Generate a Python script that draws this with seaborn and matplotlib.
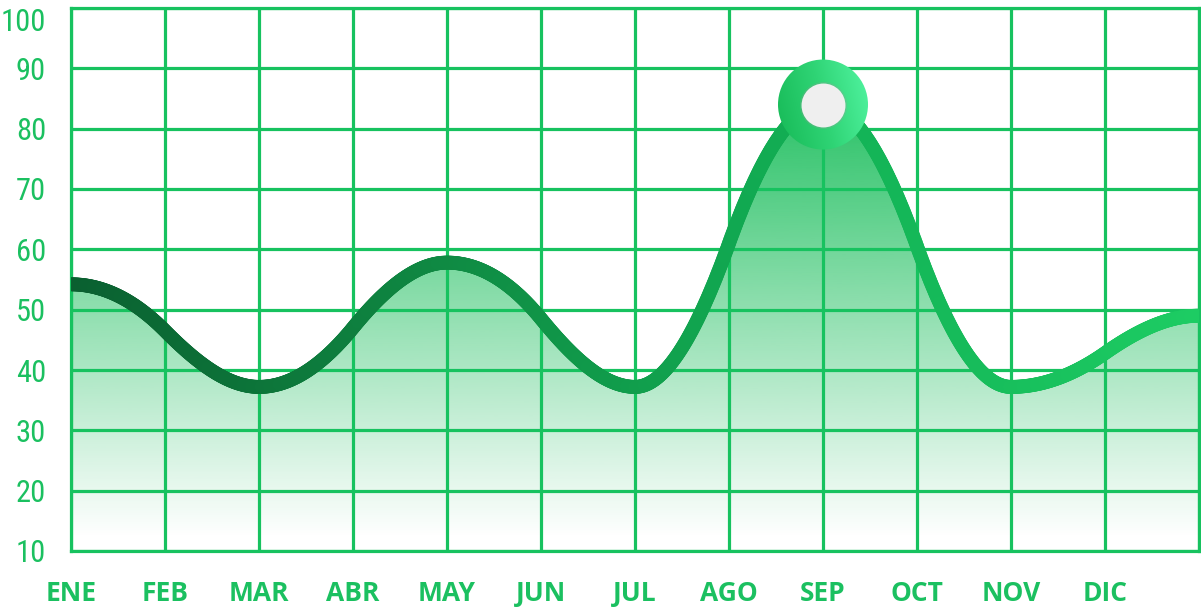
import numpy as np
import pandas as pd
import matplotlib
matplotlib.use("Agg")
import matplotlib.pyplot as plt
from matplotlib.patches import PathPatch, Ellipse
from matplotlib.path import Path
from matplotlib.collections import LineCollection
from matplotlib.colors import LinearSegmentedColormap, to_rgb
from matplotlib.bezier import BezierSegment
import seaborn as sns

# data (last point sits on the right edge, no label)
meses = ["ENE", "FEB", "MAR", "ABR", "MAY", "JUN", "JUL", "AGO", "SEP", "OCT", "NOV", "DIC"]
valores = [54.2, 46.5, 37.2, 47.0, 57.8, 48.5, 37.2, 61.0, 84.0, 60.5, 37.2, 42.8, 49.0]
y_ticks = [10, 20, 30, 40, 50, 60, 70, 80, 90, 100]
pico = 8  # SEP

verde = "#17c25f"
texto = "#1bc060"

sns.set_theme(style="white")
plt.rcParams["font.family"] = ["Open Sans", "DejaVu Sans"]

fig = plt.figure(figsize=(12.01, 6.10), dpi=100)
ax = fig.add_axes([71 / 1201, 1 - 551 / 610, 1128 / 1201, 543 / 610])

x = np.arange(len(valores), dtype=float)
y = np.array(valores, dtype=float)

# tangents: flat at the peaks/valleys, steep S in between
m = np.zeros_like(y)
for i in range(1, len(y) - 1):
    if (y[i] - y[i - 1]) * (y[i + 1] - y[i]) > 0:
        m[i] = 1.85 * (y[i + 1] - y[i - 1]) / 2

pts = []
for i in range(len(y) - 1):
    seg = BezierSegment(np.array([[x[i], y[i]],
                                  [x[i] + 1 / 3, y[i] + m[i] / 3],
                                  [x[i + 1] - 1 / 3, y[i + 1] - m[i + 1] / 3],
                                  [x[i + 1], y[i + 1]]]))
    t = np.linspace(0, 1, 80)
    pts.append(seg(t) if i == 0 else seg(t)[1:])
curva = np.vstack(pts)

# gradient area under the curve
poly = np.vstack([curva, [[x[-1], 10], [x[0], 10]]])
area = PathPatch(Path(poly), facecolor="none", edgecolor="none", transform=ax.transData)
ax.add_patch(area)
n = 256
grad = np.zeros((n, 1, 4))
grad[:, 0, :3] = to_rgb("#1fbf5f")
grad[:, 0, 3] = np.clip(np.linspace(-0.03, 0.95, n), 0, 1)
im = ax.imshow(grad, extent=[x[0], x[-1], 10, 84], origin="lower", aspect="auto", zorder=1)
im.set_clip_path(area)

# gradient line
cmap_linea = LinearSegmentedColormap.from_list("linea", ["#0a5f30", "#0f8a43", "#12b155", "#1dcc63"])
segs = np.stack([curva[:-1], curva[1:]], axis=1)
lc = LineCollection(segs, colors=cmap_linea(curva[:-1, 0] / x[-1]), linewidths=10,
                    capstyle="round", zorder=3)
ax.add_collection(lc)

# peak marker
px_x = 1128 / 12
px_y = 543 / 90
circ = Ellipse((pico, valores[pico]), 2 * 45 / px_x, 2 * 45 / px_y, facecolor="none",
               edgecolor="none", transform=ax.transData)
ax.add_patch(circ)
cmap_pico = LinearSegmentedColormap.from_list("pico", ["#16b956", "#2fd475", "#52f5a2"])
gx = np.linspace(0, 1, 200)
gimg = (gx[None, :] * 0.8 + gx[:, None] * 0.2)
im2 = ax.imshow(gimg, cmap=cmap_pico, origin="lower", aspect="auto", zorder=5,
                extent=[pico - 45 / px_x, pico + 45 / px_x,
                        valores[pico] - 45 / px_y, valores[pico] + 45 / px_y])
im2.set_clip_path(circ)

df_pico = pd.DataFrame({"x": [pico], "y": [valores[pico]]})
sns.scatterplot(data=df_pico, x="x", y="y", s=1150, color="#9a9a9a", alpha=0.25,
                linewidth=0, zorder=6, ax=ax)
sns.scatterplot(data=df_pico, x="x", y="y", s=1000, color="#efefef",
                linewidth=0, zorder=7, ax=ax)

ax.set_xlim(0, 12)
ax.set_ylim(10, 100)
ax.set_xlabel("")
ax.set_ylabel("")
ax.set_axisbelow(False)
ax.grid(True, color=verde, linewidth=2.3, zorder=2)
for s in ax.spines.values():
    s.set_visible(True)
    s.set_color(verde)
    s.set_linewidth(2.3)

ax.set_xticks(range(13))
ax.set_xticklabels(meses + [""], fontsize=19, fontweight="bold", color=texto,
                   family=["Open Sans", "DejaVu Sans"])
ax.set_yticks(y_ticks)
ax.set_yticklabels([str(v) for v in y_ticks], fontsize=22, color=texto,
                   family=["Liberation Sans Narrow", "Roboto Condensed",
                           "DejaVu Sans Condensed", "Roboto", "DejaVu Sans"],
                   fontstretch="condensed")
ax.tick_params(axis="x", length=0, pad=21)
ax.tick_params(axis="y", length=0, pad=18)
ax.get_yticklabels()[-1].set_verticalalignment("top")

fig.savefig("out.png", dpi=100)
